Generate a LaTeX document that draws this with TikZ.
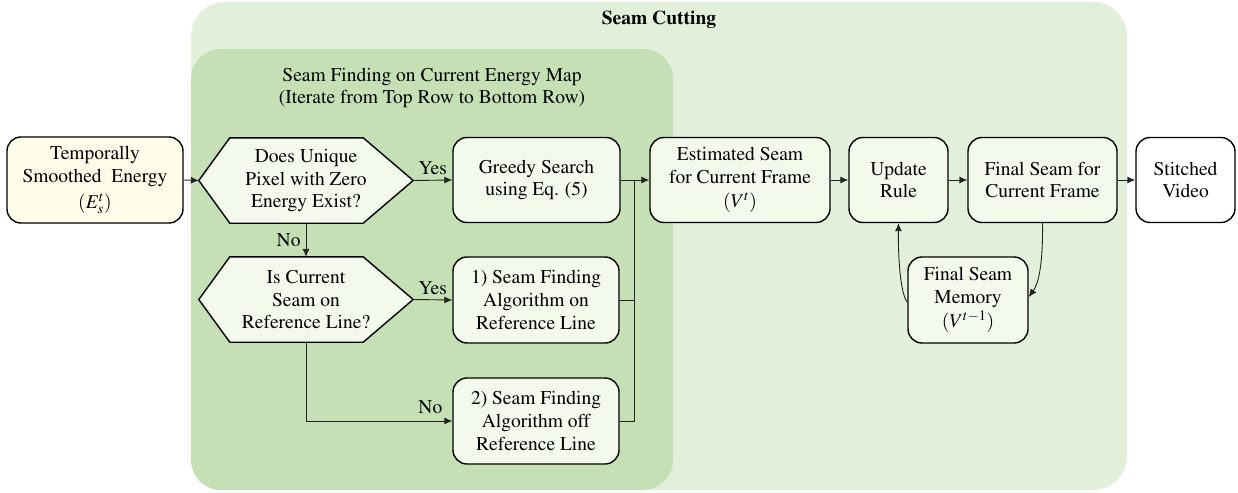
\documentclass[tikz,border=0pt]{standalone}
\usepackage[T1]{fontenc}
\usepackage{mathptmx}
\usetikzlibrary{arrows.meta}
\pgfdeclarelayer{bg}
\pgfsetlayers{bg,main}
\definecolor{outerfill}{HTML}{E2EFDA}
\definecolor{innerfill}{HTML}{C5E0B4}
\definecolor{nodefill}{HTML}{F3FAEC}
\definecolor{creamfill}{HTML}{FEFDE9}
\definecolor{linecol}{HTML}{222222}
\tikzset{
  txt/.style={font=\rmfamily\fontsize{19.5}{22.7}\selectfont, align=center, inner sep=0pt},
  stepbox/.style={txt, draw=black, line width=1.4pt, rounded corners=14pt, fill=nodefill},
  hexnode/.style={txt},
  hexshape/.style={draw=black, line width=1.4pt, fill=nodefill, line join=miter},
  conn/.style={draw=linecol, line width=0.9pt, -{Latex[length=8pt,width=7pt]}},
  plain/.style={draw=linecol, line width=0.9pt},
  lbl/.style={txt}
}
\begin{document}
\begin{tikzpicture}[x=1pt,y=-1pt]
\useasboundingbox (0,0) rectangle (1238,492);
% group boxes
\begin{pgfonlayer}{bg}
\fill[outerfill, rounded corners=34pt] (191,2) rectangle (1127,490);
\fill[innerfill, rounded corners=30pt] (191,49) rectangle (673,490);
\end{pgfonlayer}
\node[txt, font=\rmfamily\fontsize{19.5}{22.7}\selectfont\bfseries] (title) at (659,20) {Seam Cutting};
\node[txt] (subtitle) at (432,88) {Seam Finding on Current Energy Map\\(Iterate from Top Row to Bottom Row)};

% nodes
\node[stepbox, fill=creamfill, minimum width=176pt, minimum height=86pt] (temp) at (95,180) {Temporally\\Smoothed\ \ Energy\\[4pt]$(E_s^t)$};
\node[hexnode, minimum width=214pt, minimum height=85pt] (hexA) at (306,180.5) {Does Unique\\Pixel with Zero\\Energy Exist?};
\node[hexnode, minimum width=214pt, minimum height=85pt] (hexB) at (306,299.5) {Is Current\\Seam on\\Reference Line?};
\begin{pgfonlayer}{bg}
\foreach \h in {hexA,hexB}{
  \draw[hexshape] (\h.west) -- ([xshift=31pt]\h.north west) -- ([xshift=-50pt]\h.north east) -- (\h.east) -- ([xshift=-50pt]\h.south east) -- ([xshift=31pt]\h.south west) -- cycle;
}
\end{pgfonlayer}
\node[stepbox, minimum width=167pt, minimum height=85pt] (greedy) at (536.5,180) {Greedy Search\\using Eq. (5)};
\node[stepbox, minimum width=166pt, minimum height=86pt] (alg1) at (536,300) {1) Seam Finding\\Algorithm on\\Reference Line};
\node[stepbox, minimum width=166pt, minimum height=86pt] (alg2) at (536,421) {2) Seam Finding\\Algorithm off\\Reference Line};
\node[stepbox, minimum width=180pt, minimum height=85pt] (est) at (740,180) {Estimated Seam\\for Current Frame\\[1pt]$(V^t)$};
\node[stepbox, minimum width=99pt, minimum height=85pt] (upd) at (898.5,180) {Update\\Rule};
\node[stepbox, minimum width=149pt, minimum height=85pt] (fin) at (1042.5,180) {Final Seam for\\Current Frame};
\node[stepbox, fill=white, minimum width=99pt, minimum height=85pt] (stitch) at (1185.5,180) {Stitched\\Video};
\node[stepbox, minimum width=120pt, minimum height=86pt] (mem) at (968,300) {Final Seam\\Memory\\[2pt]$(V^{t-1})$};

% connectors
\coordinate (join) at (634,180);
\draw[conn] (temp.east) -- (hexA.west);
\draw[conn] (hexA.east) -- node[lbl, above=5pt] (yesA) {Yes} (greedy.west);
\draw[conn] (hexA.south) -- node[lbl, left=5pt] (noA) {No} (hexB.north);
\draw[conn] (hexB.east) -- node[lbl, above=5pt] (yesB) {Yes} (alg1.west);
\coordinate (corner) at (hexB.south |- alg2.west);
\draw[conn] (hexB.south) -- (corner) -- node[lbl, pos=0.85, above=7pt] (noB) {No} (alg2.west);
\draw[plain] (greedy.east) -- (join);
\draw[plain] (alg1.east) -| (join);
\draw[plain] (alg2.east) -| (join);
\draw[conn] (join) -- (est.west);
\draw[conn] (est.east) -- (upd.west);
\draw[conn] (upd.east) -- (fin.west);
\draw[conn] (fin.east) -- (stitch.west);
\draw[conn] (fin.south) .. controls (1043,262) and (1039,283) .. ([yshift=3pt]mem.east);
\draw[conn] ([yshift=-2pt]mem.west) .. controls (901,295) and (898,262) .. (upd.south);
\end{tikzpicture}
\end{document}
